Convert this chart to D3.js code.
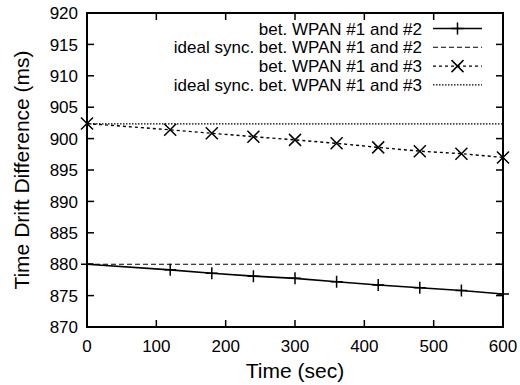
<!DOCTYPE html>
<html lang="en">
<head>
<meta charset="UTF-8">
<title>Time Drift Difference</title>
<script src="https://d3js.org/d3.v7.min.js"></script>
<style>
    body { margin: 0; background: #fff; overflow: hidden; }
    text { font-family: "Liberation Sans", Arial, sans-serif; fill: #000; }
    .tick-label { font-size: 17px; }
    .axis-title { font-size: 21px; }
    .legend-text { font-size: 17px; text-anchor: end; }
</style>
</head>
<body>
<svg id="chart"></svg>
<script>
// data
const times = [0, 120, 180, 240, 300, 360, 420, 480, 540, 600];
const drift12 = [880.0, 879.1, 878.55, 878.1, 877.75, 877.2, 876.7, 876.25, 875.8, 875.25];
const ideal12 = [880.0, 880.0];
const drift13 = [902.4, 901.4, 900.85, 900.3, 899.8, 899.25, 898.6, 898.0, 897.6, 897.0];
const ideal13 = [902.35, 902.35];
const idealTimes = [0, 600];
const xTicks = [0, 100, 200, 300, 400, 500, 600];
const yTicks = [870, 875, 880, 885, 890, 895, 900, 905, 910, 915, 920];
const legendLabels = [
    "bet. WPAN #1 and #2",
    "ideal sync. bet. WPAN #1 and #2",
    "bet. WPAN #1 and #3",
    "ideal sync. bet. WPAN #1 and #3"
];

const width = 520, height = 385;
const margin = {left: 87, right: 17, top: 13, bottom: 58};

const svg = d3.select("#chart").attr("width", width).attr("height", height);

const x = d3.scaleLinear().domain([0, 600]).range([margin.left, width - margin.right]);
const y = d3.scaleLinear().domain([870, 920]).range([height - margin.bottom, margin.top]);

// ticks (mirrored, pointing inward)
const tickLen = 7;
const g = svg.append("g");
xTicks.forEach(t => {
    g.append("line").attr("x1", x(t)).attr("x2", x(t))
        .attr("y1", y(870)).attr("y2", y(870) - tickLen).attr("stroke", "#000").attr("stroke-width", 1.5);
    g.append("line").attr("x1", x(t)).attr("x2", x(t))
        .attr("y1", y(920)).attr("y2", y(920) + tickLen).attr("stroke", "#000").attr("stroke-width", 1.5);
    g.append("text").attr("class", "tick-label").attr("x", x(t)).attr("y", y(870) + 25)
        .attr("text-anchor", "middle").text(t);
});
yTicks.forEach(t => {
    g.append("line").attr("x1", x(0)).attr("x2", x(0) + tickLen)
        .attr("y1", y(t)).attr("y2", y(t)).attr("stroke", "#000").attr("stroke-width", 1.5);
    g.append("line").attr("x1", x(600)).attr("x2", x(600) - tickLen)
        .attr("y1", y(t)).attr("y2", y(t)).attr("stroke", "#000").attr("stroke-width", 1.5);
    g.append("text").attr("class", "tick-label").attr("x", x(0) - 9).attr("y", y(t))
        .attr("dy", "0.36em").attr("text-anchor", "end").text(t);
});

// series
const line = d3.line().x(d => x(d[0])).y(d => y(d[1]));
const series = [
    {t: times, v: drift12, dash: null, w: 1.6, marker: "plus"},
    {t: idealTimes, v: ideal12, dash: "5,3", w: 1.1, marker: null},
    {t: times, v: drift13, dash: "3,3", w: 1.4, marker: "cross"},
    {t: idealTimes, v: ideal13, dash: "1.5,1.5", w: 1.1, marker: null}
];

function drawMarker(sel, type, cx, cy) {
    const s = 6;
    if (type === "plus") {
        sel.append("path").attr("d", `M${cx - s},${cy}H${cx + s}M${cx},${cy - s}V${cy + s}`)
            .attr("stroke", "#000").attr("stroke-width", 1.5).attr("fill", "none");
    } else if (type === "cross") {
        sel.append("path").attr("d", `M${cx - s},${cy - s}L${cx + s},${cy + s}M${cx - s},${cy + s}L${cx + s},${cy - s}`)
            .attr("stroke", "#000").attr("stroke-width", 1.5).attr("fill", "none");
    }
}

series.forEach(s => {
    const pts = s.t.map((t, i) => [t, s.v[i]]);
    svg.append("path").datum(pts).attr("d", line)
        .attr("fill", "none").attr("stroke", "#000").attr("stroke-width", s.w)
        .attr("stroke-dasharray", s.dash);
    if (s.marker) {
        pts.forEach(p => drawMarker(svg, s.marker, x(p[0]), y(p[1])));
    }
});

// frame
svg.append("rect").attr("x", x(0)).attr("y", y(920))
    .attr("width", x(600) - x(0)).attr("height", y(870) - y(920))
    .attr("fill", "none").attr("stroke", "#000").attr("stroke-width", 2);

// legend
const legRight = 422, legY0 = 28.5, legStep = 18.8, sampleX1 = 433, sampleX2 = 482;
legendLabels.forEach((lab, i) => {
    const ly = legY0 + i * legStep;
    svg.append("text").attr("class", "legend-text").attr("x", legRight).attr("y", ly)
        .attr("dy", "0.36em").text(lab);
    svg.append("line").attr("x1", sampleX1).attr("x2", sampleX2).attr("y1", ly).attr("y2", ly)
        .attr("stroke", "#000").attr("stroke-width", series[i].w)
        .attr("stroke-dasharray", series[i].dash);
    if (series[i].marker) drawMarker(svg, series[i].marker, (sampleX1 + sampleX2) / 2, ly);
});

// axis titles
svg.append("text").attr("class", "axis-title").attr("x", (x(0) + x(600)) / 2).attr("y", 378)
    .attr("text-anchor", "middle").text("Time (sec)");
svg.append("text").attr("class", "axis-title")
    .attr("transform", `translate(29,${(y(870) + y(920)) / 2}) rotate(-90)`)
    .attr("text-anchor", "middle").text("Time Drift Difference (ms)");
</script>
</body>
</html>
